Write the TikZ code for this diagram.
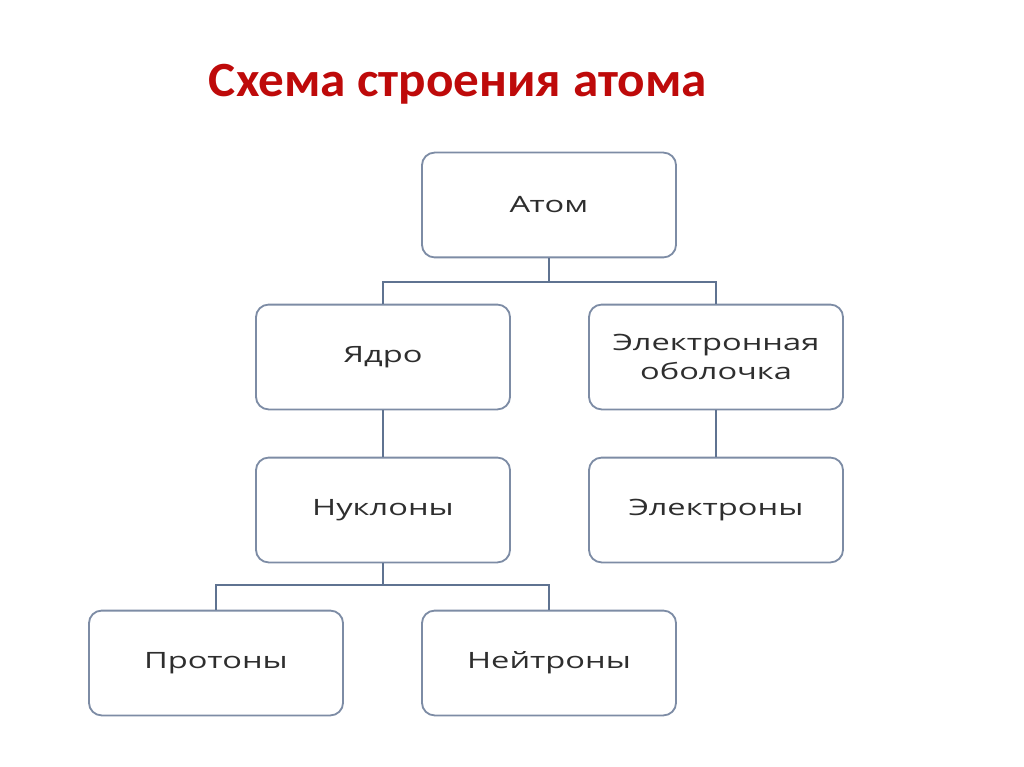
\documentclass[tikz,border=0pt]{standalone}
\usepackage{fontspec}
\setmainfont{Open Sans}[FakeStretch=1.45]
\newfontfamily\titlefont{Carlito}[FakeStretch=1.04]
\usetikzlibrary{positioning}
\definecolor{boxline}{RGB}{125,140,165}
\definecolor{linkline}{RGB}{95,115,145}
\definecolor{titlered}{RGB}{190,10,10}

\begin{document}
\begin{tikzpicture}[x=0.025cm,y=-0.025cm,
  box/.style={draw=boxline,line width=1.3pt,rounded corners=9pt,fill=white,
    minimum width=6.35cm,minimum height=2.62cm,align=center,
    font=\fontsize{16}{20}\selectfont,text=black!82},
  link/.style={draw=linkline,line width=1.3pt}]
 \useasboundingbox (0,0) rectangle (1024,767);
 \node[font=\titlefont\bfseries\fontsize{35}{40}\selectfont,text=titlered] (title) at(458,84){Схема строения атома};
 \node[box] (atom) at(549,205){Атом};
 \node[box] (nucl) at(383,357){Ядро};
 \node[box] (shell) at(716,357){Электронная\\оболочка};
 \node[box] (nuclons) at(383,510){Нуклоны};
 \node[box] (electr) at(716,510){Электроны};
 \node[box] (prot) at(216,663){Протоны};
 \node[box] (neutr) at(549,663){Нейтроны};
 \draw[link] (atom.south)--++(0,24)-|(nucl.north);
 \draw[link] (atom.south)--++(0,24)-|(shell.north);
 \draw[link] (nucl)--(nuclons);
 \draw[link] (shell)--(electr);
 \draw[link] (nuclons.south)--++(0,22)-|(prot.north);
 \draw[link] (nuclons.south)--++(0,22)-|(neutr.north);
\end{tikzpicture}
\end{document}
